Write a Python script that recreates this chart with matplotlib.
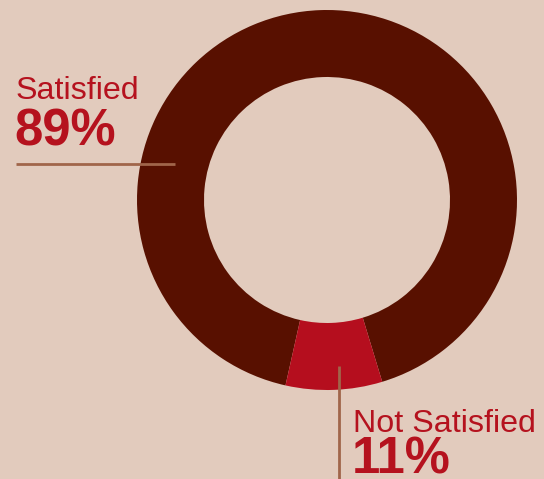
import matplotlib
matplotlib.use("Agg")
import matplotlib.pyplot as plt

categories = ["Satisfied", "Not Satisfied"]
label_pct = ["89%", "11%"]
# wedge shares as they appear in the drawing
shares = [91.8, 8.2]
colors = ["#581000", "#B50E1E"]

BG = "#E2CBBD"
TXT = "#B5121E"
LINE = "#A0654A"

W, H = 544, 479
fig = plt.figure(figsize=(W / 100, H / 100), dpi=100, facecolor=BG)
ax = fig.add_axes([0, 0, 1, 1])
ax.set_facecolor(BG)

cx, cy, R = 327, H - 200, 190
ax.pie(shares, colors=colors, radius=R, center=(cx, cy), startangle=286.9,
       counterclock=True, wedgeprops=dict(width=67, linewidth=0))

ax.set_xlim(0, W)
ax.set_ylim(0, H)
ax.set_aspect("equal")
ax.axis("off")

# leader lines
ax.plot([16, 175], [H - 164, H - 164], color=LINE, lw=2, solid_capstyle="butt")
ax.plot([339, 339], [H - 366, 0], color=LINE, lw=2, solid_capstyle="butt")

font = "Liberation Sans"
ax.text(16, H - 99, categories[0], fontsize=23.2, color=TXT, family=font, va="baseline", ha="left")
ax.text(14, H - 145, label_pct[0], fontsize=36.5, color=TXT, family=font, weight="bold", va="baseline", ha="left")
ax.text(353, H - 432, categories[1], fontsize=23.2, color=TXT, family=font, va="baseline", ha="left")
ax.text(352, H - 473, label_pct[1], fontsize=36.5, color=TXT, family=font, weight="bold", va="baseline", ha="left")

fig.savefig("out.png", dpi=100, facecolor=BG)
